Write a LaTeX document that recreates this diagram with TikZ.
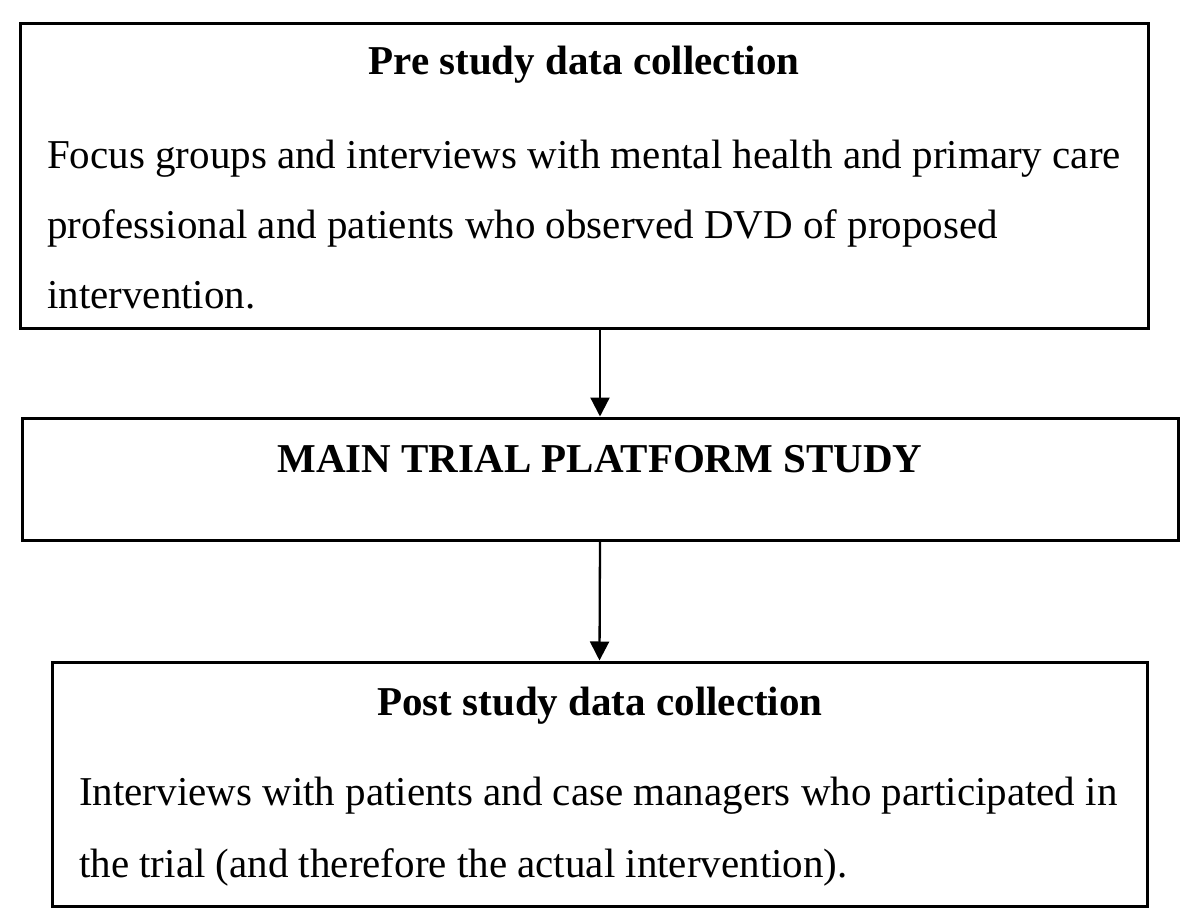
\documentclass[tikz,border=0pt]{standalone}
\usepackage{fontspec}
\setmainfont{Liberation Serif}
\usepackage{tikz}
\usetikzlibrary{arrows.meta}
\pgfdeclarelayer{edgelayer}
\pgfdeclarelayer{nodelayer}
\pgfsetlayers{edgelayer,nodelayer,main}
\tikzstyle{none}=[inner sep=0pt]
\tikzstyle{stage}=[rectangle,draw=black,fill=none,line width=3pt,inner sep=0pt]
\tikzstyle{heading}=[inner sep=0pt,anchor=base,font=\fontsize{41}{48}\selectfont\bfseries]
\tikzstyle{textline}=[inner sep=0pt,anchor=base west,font=\fontsize{41}{48}\selectfont]
\tikzstyle{inarrow}=[-{Triangle[length=19pt,width=19pt]},line width=2.3pt]

\begin{document}
\begin{tikzpicture}[x=1pt,y=-1pt]
	\useasboundingbox (0,0) rectangle (1200,923);
	\begin{pgfonlayer}{nodelayer}
		\node [style=stage, minimum width=1128pt, minimum height=304pt] (pre) at (584, 176) {};
		\node [style=stage, minimum width=1156pt, minimum height=122pt] (main) at (600, 479) {};
		\node [style=stage, minimum width=1095pt, minimum height=244pt] (post) at (599.5, 784) {};
%		pre study box
		\node [style=heading] (pretitle) at (584, 75) {Pre study data collection};
		\node [style=textline] (pre1) at (47, 168) {Focus groups and interviews with mental health and primary care};
		\node [style=textline] (pre2) at (47, 238) {professional and patients who observed DVD of proposed};
		\node [style=textline] (pre3) at (47, 308) {intervention.};
%		main trial box
		\node [style=heading] (maintitle) at (600, 472) {MAIN TRIAL PLATFORM STUDY};
%		post study box
		\node [style=heading] (posttitle) at (600, 715) {Post study data collection};
		\node [style=textline] (post1) at (79, 805) {Interviews with patients and case managers who participated in};
		\node [style=textline] (post2) at (79, 877) {the trial (and therefore the actual intervention).};
	\end{pgfonlayer}
	\begin{pgfonlayer}{edgelayer}
		\draw [style=inarrow] (pre.south -| main.north) to (main.north);
		\draw [style=inarrow] (main.south) to (post.north);
	\end{pgfonlayer}
\end{tikzpicture}
\end{document}
